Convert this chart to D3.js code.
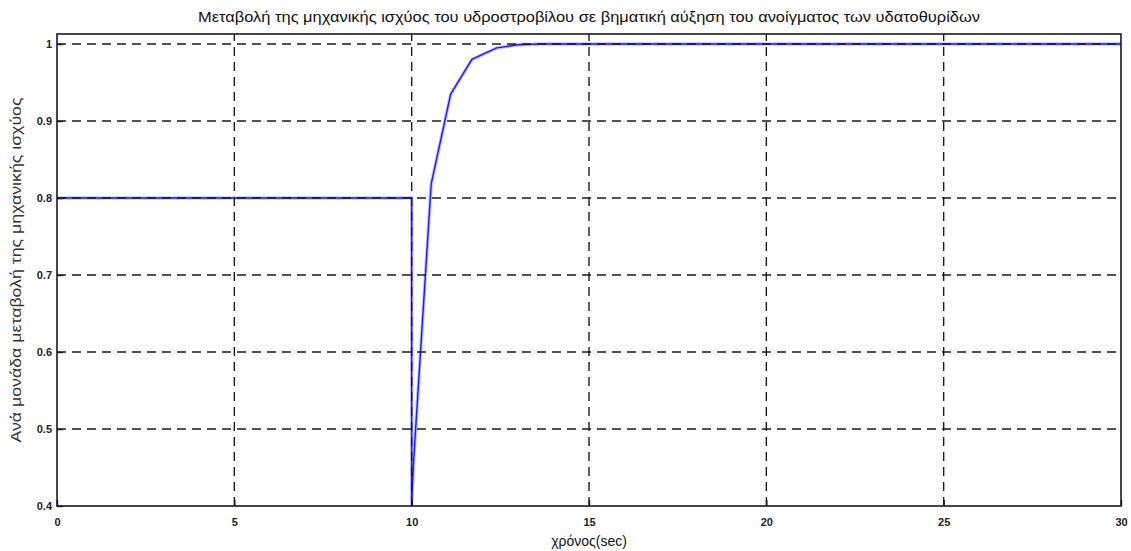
<!DOCTYPE html>
<html>
<head>
<meta charset="utf-8">
<script src="https://cdn.jsdelivr.net/npm/d3@7"></script>
<style>
  body { margin: 0; background: #fff; }
  text { font-family: "Liberation Sans Narrow", "Liberation Sans", Arial, sans-serif; }
</style>
</head>
<body>
<script>
var WIDTH = 1131, HEIGHT = 551;
var margin = { left: 57, right: 10, top: 34, bottom: 45 };

// time (sec) and mechanical power (pu)
var timeValues  = [0, 10, 10, 10.05, 10.55, 11.1, 11.7, 12.4, 13.0, 13.6, 30];
var powerValues = [0.8, 0.8, 0.4, 0.455, 0.818, 0.935, 0.98, 0.995, 0.999, 1.0, 1.0];

var xTicks = [0, 5, 10, 15, 20, 25, 30];
var yTicks = [0.4, 0.5, 0.6, 0.7, 0.8, 0.9, 1];

var titleText = 'Μεταβολή της μηχανικής ισχύος του υδροστροβίλου σε βηματική αύξηση του ανοίγματος των υδατοθυρίδων';
var xLabelText = 'χρόνος(sec)';
var yLabelText = 'Ανά μονάδα μεταβολή της μηχανικής ισχύος';

var svg = d3.select('body').append('svg').attr('width', WIDTH).attr('height', HEIGHT);

var x = d3.scaleLinear().domain([0, 30]).range([margin.left, WIDTH - margin.right]);
var y = d3.scaleLinear().domain([0.4, 1.013]).range([HEIGHT - margin.bottom, margin.top]);

var points = timeValues.map(function (t, i) { return [t, powerValues[i]]; });

// curve with a soft halo like the antialiased original
var line = d3.line().x(function (d) { return x(d[0]); }).y(function (d) { return y(d[1]); });
svg.append('path').datum(points)
    .attr('d', line).attr('fill', 'none')
    .attr('stroke', '#9999ff').attr('stroke-width', 3.5).attr('opacity', 0.6);
svg.append('path').datum(points)
    .attr('d', line).attr('fill', 'none')
    .attr('stroke', '#1a1aff').attr('stroke-width', 1.4);

// dashed grid on top of the curve
var grid = svg.append('g').attr('class', 'grid')
    .attr('stroke', '#1a1a1a').attr('stroke-width', 1.4).attr('stroke-dasharray', '9,6');
grid.selectAll('line.gx').data(xTicks.slice(1, -1)).enter().append('line')
    .attr('x1', function (d) { return x(d); }).attr('x2', function (d) { return x(d); })
    .attr('y1', y.range()[0]).attr('y2', y.range()[1]);
grid.selectAll('line.gy').data(yTicks.slice(1)).enter().append('line')
    .attr('y1', function (d) { return y(d); }).attr('y2', function (d) { return y(d); })
    .attr('x1', x.range()[0]).attr('x2', x.range()[1]);

// axes with inward ticks
var xAxis = d3.axisBottom(x).tickValues(xTicks).tickSize(-6).tickPadding(12).tickFormat(d3.format('d'));
var yAxis = d3.axisLeft(y).tickValues(yTicks).tickSize(-6).tickPadding(5).tickFormat(function (d) { return d === 1 ? '1' : d3.format('.1f')(d); });

var gx = svg.append('g').attr('transform', 'translate(0,' + y.range()[0] + ')').call(xAxis);
var gy = svg.append('g').attr('transform', 'translate(' + x.range()[0] + ',0)').call(yAxis);
[gx, gy].forEach(function (g) {
    g.select('.domain').remove();
    g.selectAll('.tick line').attr('stroke', '#1a1a1a').attr('stroke-width', 1.4);
    g.selectAll('.tick text').attr('fill', '#222').attr('font-size', 11).attr('font-weight', 'bold')
        .style('font-family', '"Liberation Sans Narrow", "Liberation Sans", Arial, sans-serif');
});

// frame
svg.append('rect')
    .attr('x', x.range()[0]).attr('y', y.range()[1])
    .attr('width', x.range()[1] - x.range()[0]).attr('height', y.range()[0] - y.range()[1])
    .attr('fill', 'none').attr('stroke', '#1a1a1a').attr('stroke-width', 1.6);

// texts
svg.append('text').text(titleText)
    .attr('x', (x.range()[0] + x.range()[1]) / 2).attr('y', 22)
    .attr('text-anchor', 'middle').attr('font-size', 14).attr('fill', '#111')
    .attr('textLength', 782).attr('lengthAdjust', 'spacingAndGlyphs');

svg.append('text').text(xLabelText)
    .attr('x', (x.range()[0] + x.range()[1]) / 2).attr('y', 546)
    .attr('text-anchor', 'middle').attr('font-size', 14).attr('fill', '#111');

svg.append('text').text(yLabelText)
    .attr('transform', 'translate(21,' + ((y.range()[0] + y.range()[1]) / 2) + ') rotate(-90)')
    .attr('text-anchor', 'middle').attr('font-size', 14).attr('fill', '#333')
    .attr('textLength', 345).attr('lengthAdjust', 'spacingAndGlyphs');
</script>
</body>
</html>
